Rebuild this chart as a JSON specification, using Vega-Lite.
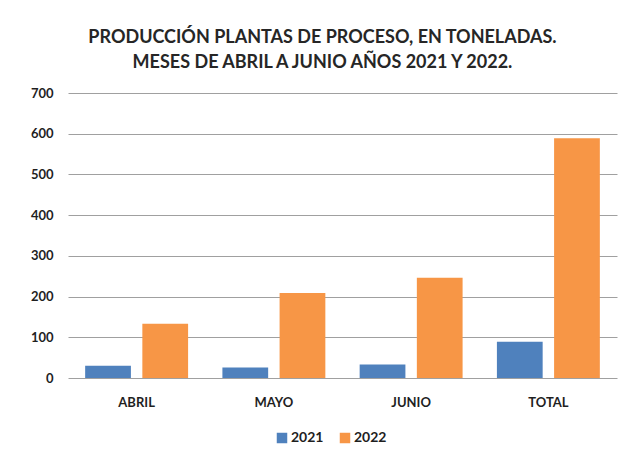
{
  "$schema": "https://vega.github.io/schema/vega-lite/v6.json",
  "width": 549,
  "height": 285,
  "autosize": {"type": "none"},
  "padding": {"left": 68, "top": 93, "right": 26, "bottom": 80},
  "background": "white",
  "title": {
    "text": ["PRODUCCIÓN PLANTAS DE PROCESO, EN TONELADAS.", "MESES DE ABRIL A JUNIO AÑOS 2021 Y 2022."],
    "font": "Lato",
    "fontSize": 18,
    "fontWeight": "bold",
    "color": "#262626",
    "lineHeight": 25,
    "anchor": "middle",
    "offset": 15,
    "dx": -20
  },
  "data": {
    "values": [
      {"mes": "ABRIL", "anio": "2021", "valor": 30},
      {"mes": "ABRIL", "anio": "2022", "valor": 133},
      {"mes": "MAYO", "anio": "2021", "valor": 26},
      {"mes": "MAYO", "anio": "2022", "valor": 209},
      {"mes": "JUNIO", "anio": "2021", "valor": 33},
      {"mes": "JUNIO", "anio": "2022", "valor": 246},
      {"mes": "TOTAL", "anio": "2021", "valor": 89},
      {"mes": "TOTAL", "anio": "2022", "valor": 589}
    ]
  },
  "mark": {"type": "bar"},
  "encoding": {
    "x": {
      "field": "mes",
      "type": "nominal",
      "sort": ["ABRIL", "MAYO", "JUNIO", "TOTAL"],
      "scale": {"paddingInner": 0.25, "paddingOuter": 0.125},
      "axis": {
        "title": null,
        "labelAngle": 0,
        "ticks": false,
        "domain": false,
        "labelPadding": 18,
        "labelFont": "Lato",
        "labelFontSize": 13,
        "labelFontWeight": "bold",
        "labelColor": "#1f1f1f"
      }
    },
    "xOffset": {
      "field": "anio",
      "type": "nominal",
      "scale": {"paddingInner": 0.2, "paddingOuter": 0}
    },
    "y": {
      "field": "valor",
      "type": "quantitative",
      "scale": {"domain": [0, 700]},
      "axis": {
        "title": null,
        "values": [0, 100, 200, 300, 400, 500, 600, 700],
        "ticks": false,
        "domain": false,
        "labelPadding": 15,
        "labelFont": "Lato",
        "labelFontSize": 13,
        "labelFontWeight": "bold",
        "labelColor": "#1f1f1f",
        "gridColor": "#a0a0a0",
        "gridWidth": 1
      }
    },
    "color": {
      "field": "anio",
      "type": "nominal",
      "scale": {"domain": ["2021", "2022"], "range": ["#4f81bd", "#f79646"]},
      "legend": {
        "title": null,
        "orient": "none",
        "direction": "horizontal",
        "legendX": 207,
        "legendY": 338,
        "symbolType": "square",
        "symbolSize": 110,
        "symbolOpacity": 1,
        "symbolStrokeWidth": 0,
        "labelFont": "Lato",
        "labelFontSize": 14,
        "labelFontWeight": "bold",
        "labelColor": "#1f1f1f",
        "labelOffset": 2,
        "columnPadding": 14
      }
    }
  },
  "config": {
    "view": {"stroke": null}
  }
}
